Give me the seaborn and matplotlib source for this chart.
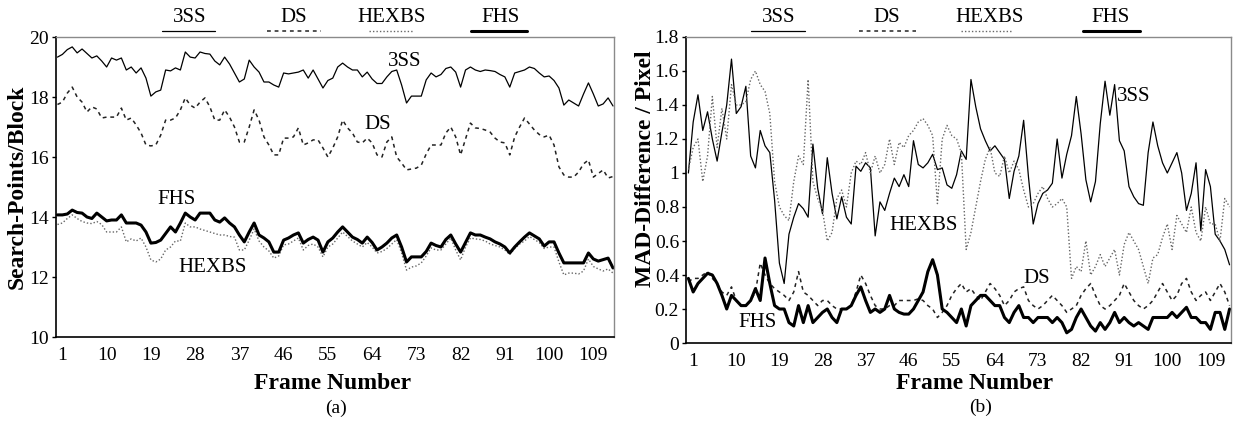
import numpy as np
import matplotlib
matplotlib.use('Agg')
import matplotlib.pyplot as plt
from matplotlib.lines import Line2D
import seaborn as sns

# Frame axis (0..113)
frames = np.arange(0, 114)
xtick_vals = list(range(1, 110, 9))

# ---- Panel (a): Search-Points/Block ----
a_3ss = [19.33, 19.42, 19.58, 19.67, 19.47, 19.6, 19.45, 19.3, 19.37, 19.2,
         19.0, 19.3, 19.23, 19.3, 18.9, 19.0, 18.8, 18.97, 18.63, 18.03,
         18.17, 18.23, 18.9, 18.87, 18.97, 18.9, 19.5, 19.33, 19.3, 19.5,
         19.45, 19.43, 19.2, 19.07, 19.33, 19.1, 18.8, 18.5, 18.6, 19.23,
         19.0, 18.83, 18.5, 18.5, 18.4, 18.33, 18.8, 18.77, 18.8, 18.83,
         18.9, 18.63, 18.9, 18.6, 18.3, 18.55, 18.63, 19.0, 19.13, 19.0,
         18.9, 18.9, 18.67, 18.83, 18.6, 18.45, 18.45, 18.67, 18.85, 18.9,
         18.4, 17.8, 18.03, 18.03, 18.03, 18.57, 18.8, 18.67, 18.75, 18.95,
         19.0, 18.83, 18.33, 18.9, 19.0, 18.9, 18.85, 18.9, 18.88, 18.85,
         18.75, 18.67, 18.33, 18.8, 18.85, 18.9, 19.0, 18.95, 18.8, 18.67,
         18.7, 18.55, 18.3, 17.73, 17.9, 17.8, 17.7, 18.1, 18.47, 18.1,
         17.7, 17.77, 17.97, 17.7]

a_ds = [17.75,
        17.83, 18.13, 18.33, 18.0, 17.83, 17.5, 17.67, 17.6, 17.3, 17.33,
        17.33, 17.33, 17.63, 17.23, 17.3, 17.07, 16.8, 16.4, 16.37, 16.4,
        16.73, 17.23, 17.23, 17.3, 17.57, 17.97, 17.73, 17.63, 17.83, 17.97,
        17.67, 17.23, 17.23, 17.57, 17.33, 17.0, 16.5, 16.5, 17.0, 17.57,
        17.23, 16.67, 16.4, 16.07, 16.07, 16.63, 16.63, 16.67, 16.97, 16.4,
        16.47, 16.57, 16.57, 16.3, 16.0, 16.3, 16.67, 17.23, 16.97, 16.8,
        16.5, 16.47, 16.63, 16.47, 16.07, 16.0, 16.5, 16.67, 16.0, 15.8,
        15.57, 15.6, 15.63, 15.73, 16.1, 16.4, 16.4, 16.4, 16.8, 17.0,
        16.67, 16.07, 16.6, 17.13, 16.97, 16.95, 16.9, 16.83, 16.63, 16.5,
        16.47, 16.07, 16.67, 17.0, 17.3, 17.1, 16.9, 16.75, 16.67, 16.73,
        16.4, 15.67, 15.4, 15.33, 15.33, 15.5, 15.77, 15.9, 15.33, 15.45,
        15.57, 15.3, 15.35]

a_fhs = [14.07,
         14.07, 14.1, 14.23, 14.15, 14.13, 14.0, 13.95, 14.13, 14.0, 13.87,
         13.9, 13.9, 14.07, 13.8, 13.8, 13.8, 13.73, 13.5, 13.13, 13.15,
         13.23, 13.45, 13.67, 13.5, 13.8, 14.13, 14.0, 13.9, 14.13, 14.13,
         14.13, 13.9, 13.83, 13.97, 13.8, 13.67, 13.4, 13.17, 13.5, 13.8,
         13.4, 13.3, 13.17, 12.83, 12.83, 13.23, 13.3, 13.4, 13.47, 13.13,
         13.25, 13.33, 13.23, 12.83, 13.17, 13.3, 13.5, 13.67, 13.5, 13.33,
         13.25, 13.13, 13.33, 13.15, 12.9, 13.0, 13.13, 13.3, 13.4, 13.0,
         12.5, 12.67, 12.67, 12.67, 12.85, 13.13, 13.05, 13.0, 13.25, 13.4,
         13.1, 12.83, 13.15, 13.47, 13.4, 13.4, 13.33, 13.27, 13.17, 13.1,
         13.0, 12.8, 13.0, 13.17, 13.33, 13.47, 13.37, 13.27, 13.03, 13.17,
         13.17, 12.8, 12.47, 12.47, 12.47, 12.47, 12.47, 12.8, 12.6, 12.53,
         12.58, 12.63, 12.3]

a_hexbs = [13.75,
           13.8, 13.95, 14.07, 13.95, 13.85, 13.8, 13.78, 13.85, 13.75, 13.5,
           13.5, 13.5, 13.67, 13.17, 13.27, 13.2, 13.3, 13.0, 12.57, 12.5,
           12.6, 12.9, 13.0, 13.2, 13.2, 13.8, 13.67, 13.67, 13.6, 13.55,
           13.5, 13.45, 13.4, 13.4, 13.35, 13.33, 12.9, 12.9, 13.23, 13.6,
           13.2, 13.0, 12.87, 12.63, 12.7, 13.07, 13.1, 13.2, 13.3, 12.9,
           13.05, 13.1, 13.0, 12.67, 13.0, 13.1, 13.3, 13.5, 13.35, 13.2,
           13.1, 13.0, 13.15, 13.0, 12.8, 12.85, 12.95, 13.1, 13.25, 12.8,
           12.23, 12.33, 12.37, 12.47, 12.7, 12.97, 12.9, 12.9, 13.1, 13.3,
           12.9, 12.57, 13.0, 13.3, 13.27, 13.25, 13.2, 13.1, 13.05, 13.0,
           12.9, 12.75, 12.95, 13.1, 13.2, 13.35, 13.25, 13.15, 12.95, 13.0,
           13.0, 12.5, 12.07, 12.13, 12.13, 12.1, 12.2, 12.6, 12.35, 12.27,
           12.2, 12.27, 12.13]

# ---- Panel (b): MAD-Difference / Pixel ----
b_3ss = [1.0, 1.3, 1.46, 1.25, 1.36, 1.2, 1.07, 1.24, 1.4, 1.67,
         1.35, 1.39, 1.51, 1.1, 1.03, 1.25, 1.16, 1.12, 0.84, 0.47,
         0.35, 0.64, 0.74, 0.82, 0.79, 0.74, 1.17, 0.91, 0.76, 1.09,
         0.88, 0.73, 0.86, 0.74, 0.7, 1.04, 1.01, 1.06, 1.03, 0.63,
         0.83, 0.78, 0.88, 0.97, 0.92, 0.99, 0.92, 1.19, 1.05, 1.03,
         1.06, 1.11, 1.02, 1.03, 0.93, 0.91, 0.99, 1.13, 1.08, 1.55,
         1.39, 1.26, 1.19, 1.13, 1.16, 1.12, 1.08, 0.85, 1.01, 1.1,
         1.31, 0.98, 0.7, 0.82, 0.88, 0.9, 0.94, 1.2, 0.97, 1.11,
         1.22, 1.45, 1.23, 0.96, 0.83, 0.95, 1.29, 1.54, 1.34, 1.52,
         1.19, 1.13, 0.92, 0.86, 0.82, 0.81, 1.12, 1.3, 1.16, 1.06,
         1.0, 1.06, 1.12, 1.0, 0.78, 0.88, 1.06, 0.66, 1.02, 0.92,
         0.64, 0.6, 0.55, 0.46]

b_ds = [0.36, 0.38, 0.38, 0.4, 0.42, 0.38, 0.35, 0.3, 0.28, 0.33,
        0.25, 0.22, 0.22, 0.25, 0.3, 0.47, 0.4, 0.35, 0.32, 0.3,
        0.28, 0.25, 0.3, 0.42, 0.3, 0.28, 0.25, 0.22, 0.25, 0.25,
        0.22, 0.2, 0.2, 0.2, 0.22, 0.3, 0.4, 0.35, 0.28, 0.22,
        0.2, 0.2, 0.22, 0.22, 0.25, 0.25, 0.25, 0.25, 0.26, 0.25,
        0.22, 0.2, 0.15, 0.18, 0.22, 0.28, 0.32, 0.35, 0.3, 0.32,
        0.28, 0.25, 0.3, 0.35, 0.32, 0.28, 0.22, 0.25, 0.3, 0.32,
        0.33, 0.25, 0.22, 0.2, 0.22, 0.25, 0.28, 0.25, 0.22, 0.18,
        0.2, 0.22, 0.28, 0.32, 0.35, 0.28, 0.22, 0.2, 0.22, 0.25,
        0.28, 0.35, 0.3, 0.25, 0.22, 0.2, 0.22, 0.25, 0.3, 0.35,
        0.3, 0.25, 0.28, 0.35, 0.38, 0.3, 0.25, 0.28, 0.3, 0.25,
        0.3, 0.35, 0.3, 0.22]

b_hexbs = [1.02, 1.15, 1.2, 0.95, 1.1, 1.45, 1.15, 1.38, 1.2, 1.52,
           1.4, 1.4, 1.42, 1.55, 1.6, 1.52, 1.48, 1.35, 0.95, 0.8,
           0.75, 0.72, 0.95, 1.1, 1.05, 1.55, 0.95, 0.85, 0.78, 0.6,
           0.65, 0.85, 0.9, 0.8, 1.0, 1.07, 1.05, 1.12, 1.0, 1.1,
           1.0, 1.05, 1.2, 1.05, 1.18, 1.15, 1.22, 1.25, 1.3, 1.32,
           1.28, 1.22, 0.82, 1.2, 1.28, 1.22, 1.2, 1.12, 0.55, 0.65,
           0.8, 0.95, 1.08, 1.15, 1.0, 0.98, 1.1, 1.0, 1.07, 1.02,
           0.9, 0.8, 0.82, 0.88, 0.92, 0.85, 0.8, 0.82, 0.85, 0.8,
           0.38, 0.45, 0.42, 0.6, 0.4, 0.45, 0.52, 0.45, 0.5, 0.55,
           0.4, 0.58, 0.65, 0.6, 0.55, 0.45, 0.35, 0.5, 0.52, 0.62,
           0.7, 0.55, 0.75, 0.7, 0.65, 0.8, 0.65, 0.6, 0.8, 0.7,
           0.7, 0.6, 0.85, 0.8]

b_fhs = [0.38, 0.3, 0.35, 0.38, 0.41, 0.4, 0.35, 0.28, 0.2, 0.28,
         0.25, 0.22, 0.22, 0.25, 0.32, 0.25, 0.5, 0.35, 0.22, 0.2,
         0.2, 0.12, 0.1, 0.22, 0.12, 0.22, 0.12, 0.15, 0.18, 0.2,
         0.15, 0.12, 0.2, 0.2, 0.22, 0.28, 0.33, 0.25, 0.18, 0.2,
         0.18, 0.2, 0.28, 0.2, 0.18, 0.17, 0.17, 0.2, 0.25, 0.3,
         0.42, 0.49, 0.4, 0.2, 0.18, 0.15, 0.12, 0.2, 0.1, 0.22,
         0.25, 0.28, 0.28, 0.25, 0.22, 0.22, 0.15, 0.12, 0.18, 0.22,
         0.15, 0.15, 0.12, 0.15, 0.15, 0.15, 0.12, 0.15, 0.12, 0.06,
         0.08, 0.15, 0.2, 0.15, 0.1, 0.07, 0.12, 0.08, 0.12, 0.18,
         0.12, 0.15, 0.12, 0.1, 0.12, 0.1, 0.08, 0.15, 0.15, 0.15,
         0.15, 0.18, 0.15, 0.18, 0.21, 0.15, 0.15, 0.12, 0.12, 0.08,
         0.18, 0.18, 0.08, 0.2]

names = ['3SS', 'DS', 'HEXBS', 'FHS']

sns.set_theme(style='white')
plt.rcParams['font.family'] = ['Liberation Serif', 'DejaVu Serif']
plt.rcParams['text.color'] = 'black'
plt.rcParams['axes.labelcolor'] = 'black'
plt.rcParams['xtick.color'] = 'black'
plt.rcParams['ytick.color'] = 'black'

W, H = 1234, 423
fig = plt.figure(figsize=(W / 100, H / 100), dpi=100)

styles = {
    '3SS': dict(color='black', linewidth=0.9, linestyle='-'),
    'DS': dict(color='#222222', linewidth=1.1, linestyle=(0, (2.5, 2.5))),
    'HEXBS': dict(color='#666666', linewidth=1.0, linestyle=(0, (1, 1.5))),
    'FHS': dict(color='black', linewidth=2.2, linestyle='-'),
}


def px_box(x0, y0, x1, y1):
    return [x0 / W, 1 - y1 / H, (x1 - x0) / W, (y1 - y0) / H]


def style_axes(ax):
    for side in ['top', 'right']:
        ax.spines[side].set_color('#8a8a8a')
        ax.spines[side].set_linewidth(1.0)
    for side in ['left', 'bottom']:
        ax.spines[side].set_color('black')
        ax.spines[side].set_linewidth(1.2)
    ax.tick_params(axis='y', length=3, width=1, labelsize=14, pad=2, left=True)
    ax.tick_params(axis='x', length=0, labelsize=14, pad=7)
    ax.set_xticks(xtick_vals)
    ax.grid(False)


def legend_row(items):
    # items: (name, text center x, line x0, line x1) in pixels
    for name, tx, lx0, lx1 in items:
        fig.text(tx / W, 1 - 17 / H, name, ha='center', va='center', fontsize=15)
        st = styles[name]
        fig.add_artist(Line2D([lx0 / W, lx1 / W], [1 - 31 / H, 1 - 31 / H],
                              transform=fig.transFigure, **st))


# Panel (a)
ax1 = fig.add_axes(px_box(56, 37, 614, 337))
for name, vals in zip(names, [a_3ss, a_ds, a_hexbs, a_fhs]):
    sns.lineplot(x=frames, y=vals, ax=ax1, **styles[name])
ax1.set_xlim(-0.3, 113.2)
ax1.set_ylim(10, 20)
ax1.set_yticks([10, 12, 14, 16, 18, 20])
style_axes(ax1)
ax1.set_xlabel('Frame Number', fontsize=17, fontweight='bold')
ax1.set_ylabel('Search-Points/Block', fontsize=17, fontweight='bold')
ax1.xaxis.set_label_coords(0.495, -0.12)
ax1.yaxis.set_label_coords(-0.05, 0.5)
ax1.text(70.7, 19.17, '3SS', fontsize=15, ha='center', va='center')
ax1.text(65.2, 17.07, 'DS', fontsize=15, ha='center', va='center')
ax1.text(24.2, 14.57, 'FHS', fontsize=15, ha='center', va='center')
ax1.text(31.5, 12.3, 'HEXBS', fontsize=15, ha='center', va='center')
fig.text(336 / W, 1 - 408 / H, '(a)', ha='center', va='center', fontsize=14)
legend_row([('3SS', 190, 162, 215), ('DS', 294, 267, 321),
            ('HEXBS', 392, 369, 413), ('FHS', 500, 471, 527)])

# Panel (b)
ax2 = fig.add_axes(px_box(686, 37, 1231, 343))
for name, vals in zip(names, [b_3ss, b_ds, b_hexbs, b_fhs]):
    sns.lineplot(x=frames, y=vals, ax=ax2, **styles[name])
ax2.set_xlim(-0.5, 113.3)
ax2.set_ylim(0, 1.8)
ax2.set_yticks([0, 0.2, 0.4, 0.6, 0.8, 1.0, 1.2, 1.4, 1.6, 1.8])
ax2.set_yticklabels(['0', '0.2', '0.4', '0.6', '0.8', '1', '1.2', '1.4', '1.6', '1.8'])
style_axes(ax2)
ax2.set_xlabel('Frame Number', fontsize=17, fontweight='bold')
ax2.set_ylabel('MAD-Difference / Pixel', fontsize=17, fontweight='bold')
ax2.xaxis.set_label_coords(0.53, -0.097)
ax2.yaxis.set_label_coords(-0.055, 0.57)
ax2.text(92.9, 1.45, '3SS', fontsize=15, ha='center', va='center')
ax2.text(49.2, 0.69, 'HEXBS', fontsize=15, ha='center', va='center')
ax2.text(72.7, 0.38, 'DS', fontsize=15, ha='center', va='center')
ax2.text(14.5, 0.12, 'FHS', fontsize=15, ha='center', va='center')
fig.text(981 / W, 1 - 407 / H, '(b)', ha='center', va='center', fontsize=14)
legend_row([('3SS', 779, 751, 805), ('DS', 887, 859, 916),
            ('HEXBS', 990, 961, 1012), ('FHS', 1110, 1083, 1140)])

fig.savefig('out.png', dpi=100)
